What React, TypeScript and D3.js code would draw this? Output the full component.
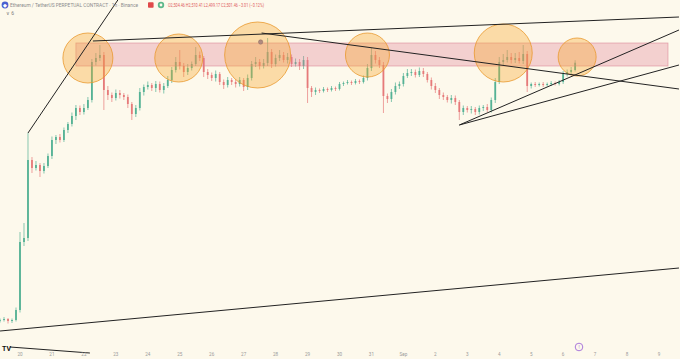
import React from "react";
import * as d3 from "d3";

// ---- data (3h candles starting 2024-08-19 09:00 UTC) ----
const closes = [
  1472, 1476, 1468, 1472, 1512, 1784, 1800, 2112, 2080, 2092,
  2068, 2088, 2128, 2192, 2204, 2192, 2232, 2256, 2288, 2320,
  2304, 2320, 2352, 2504, 2520, 2532, 2392, 2372, 2360, 2380,
  2372, 2364, 2336, 2296, 2320, 2384, 2404, 2412, 2400, 2416,
  2392, 2408, 2432, 2472, 2504, 2488, 2464, 2480, 2496, 2532,
  2520, 2464, 2452, 2440, 2456, 2424, 2412, 2432, 2424, 2416,
  2432, 2404, 2440, 2496, 2504, 2488, 2500, 2544, 2496, 2520,
  2532, 2512, 2524, 2496, 2504, 2488, 2512, 2400, 2384, 2392,
  2388, 2396, 2392, 2400, 2396, 2416, 2420, 2424, 2420, 2428,
  2424, 2440, 2480, 2532, 2512, 2492, 2368, 2356, 2384, 2408,
  2416, 2448, 2460, 2464, 2452, 2468, 2456, 2432, 2408, 2392,
  2372, 2364, 2352, 2360, 2344, 2304, 2320, 2312, 2316, 2304,
  2320, 2324, 2312, 2352, 2424, 2504, 2512, 2524, 2512, 2520,
  2508, 2536, 2408, 2416, 2412, 2416, 2412, 2416, 2420, 2416,
  2424, 2456, 2464, 2472, 2501,
];
const firstOpen = 1470;
const wickUp = [
  6, 8, 4, 6, 10, 40, 60, 108, 12, 16,
  8, 12, 10, 14, 8, 12, 10, 8, 14, 12,
  10, 16, 12, 12, 20, 40, 12, 16, 10, 14,
  12, 8, 10, 8, 12, 16, 10, 14, 8, 12,
  10, 12, 16, 12, 20, 48, 12, 16, 10, 32,
  14, 8, 12, 10, 14, 8, 10, 12, 8, 10,
  12, 8, 14, 12, 20, 12, 16, 56, 12, 14,
  20, 12, 16, 10, 14, 12, 16, 12, 8, 10,
  6, 8, 6, 8, 6, 8, 6, 8, 6, 8,
  6, 10, 16, 28, 16, 12, 12, 10, 12, 14,
  10, 12, 16, 12, 10, 14, 12, 8, 10, 12,
  8, 10, 8, 12, 10, 8, 10, 8, 12, 8,
  10, 8, 12, 10, 16, 20, 24, 28, 16, 20,
  24, 36, 12, 6, 8, 6, 8, 6, 8, 6,
  8, 12, 10, 12, 10,
];
const wickDown = [
  8, 6, 10, 8, 6, 10, 16, 12, 20, 10,
  24, 10, 8, 12, 16, 10, 8, 12, 10, 16,
  12, 10, 8, 10, 14, 12, 80, 20, 16, 10,
  14, 12, 16, 24, 12, 10, 14, 10, 12, 16,
  10, 14, 8, 12, 10, 14, 20, 12, 10, 8,
  12, 20, 16, 12, 14, 12, 16, 10, 12, 14,
  10, 16, 12, 10, 12, 14, 10, 12, 16, 10,
  12, 10, 14, 12, 10, 16, 12, 60, 20, 12,
  8, 6, 8, 6, 8, 6, 8, 6, 8, 6,
  8, 6, 10, 12, 14, 12, 68, 16, 12, 10,
  12, 10, 8, 12, 10, 8, 12, 10, 14, 12,
  16, 12, 10, 14, 12, 32, 12, 10, 14, 12,
  10, 12, 8, 10, 12, 8, 12, 10, 14, 12,
  10, 12, 24, 10, 8, 6, 8, 6, 8, 6,
  6, 8, 10, 8, 6,
];

const tickDays = [
  "2024-08-20", "2024-08-21", "2024-08-22", "2024-08-23", "2024-08-24",
  "2024-08-25", "2024-08-26", "2024-08-27", "2024-08-28", "2024-08-29",
  "2024-08-30", "2024-08-31", "2024-09-01", "2024-09-02", "2024-09-03",
  "2024-09-04", "2024-09-05", "2024-09-06", "2024-09-07", "2024-09-08",
  "2024-09-09",
];
const tickLabels = [
  "20", "21", "22", "23", "24", "25", "26", "27", "28", "29",
  "30", "31", "Sep", "2", "3", "4", "5", "6", "7", "8", "9",
];

// annotations in (candle index, price)
const zoneBox = { t0: 19, t1: 167.25, p0: 2580, p1: 2488 };
const circleCenters = [
  { t: 22, p: 2520 },
  { t: 44.75, p: 2520 },
  { t: 64.5, p: 2532 },
  { t: 92, p: 2532 },
  { t: 126, p: 2540 },
  { t: 144.5, p: 2524 },
];
const circleRadii = [25, 24, 33, 22, 29, 19];
const trendLines = [
  { t0: 7, p0: 2220, t1: 29.5, p1: 2752 },
  { t0: 23.25, p0: 2588, t1: 170, p1: 2684 },
  { t0: 65.5, p0: 2620, t1: 170, p1: 2396 },
  { t0: 115, p0: 2252, t1: 170, p1: 2632 },
  { t0: 115, p0: 2252, t1: 170, p1: 2492 },
  { t0: 0, p0: 1428, t1: 170, p1: 1680 },
  { t0: 2.5, p0: 1364, t1: 22.5, p1: 1340 },
];
const markerPoint = { t: 65.25, p: 2584 };

const legendTitle = "Ethereum / TetherUS PERPETUAL CONTRACT · 1h · Binance";
const legendOHLC = "O2,504.46 H2,510.41 L2,499.17 C2,501.46 −3.01 (−0.12%)";

const START = Date.UTC(2024, 7, 19, 9);
const STEP = 3 * 3600 * 1000;
const tDate = (t: number) => new Date(START + t * STEP);

export default function App() {
  const W = 680, H = 359;
  const x = d3
    .scaleUtc()
    .domain([new Date(Date.UTC(2024, 7, 20)), new Date(Date.UTC(2024, 8, 9))])
    .range([20, 659]);
  const y = d3.scaleLinear().domain([1472, 2504]).range([320, 62]);

  const candles = closes.map((c, i) => {
    const o = i === 0 ? firstOpen : closes[i - 1];
    const hi = Math.max(o, c) + wickUp[i];
    const lo = Math.min(o, c) - wickDown[i];
    return { o, c, hi, lo, d: tDate(i) };
  });

  const green = "#55b295";
  const red = "#e67a7a";
  const bodyW = 1.8;

  return (
    <svg
      width={W}
      height={H}
      style={{ position: "fixed", left: 0, top: 0, background: "#fdf9ec" }}
      fontFamily="Roboto, 'Noto Sans', sans-serif"
    >
      <rect x={0} y={0} width={W} height={H} fill="#fdf9ec" />
      {/* candles */}
      {candles.map((k, i) => {
        const cx = x(k.d);
        const up = k.c >= k.o;
        const col = up ? green : red;
        const yTop = y(Math.max(k.o, k.c));
        const yBot = y(Math.min(k.o, k.c));
        return (
          <g key={i}>
            <line x1={cx} x2={cx} y1={y(k.hi)} y2={y(k.lo)} stroke={col} strokeWidth={0.7} />
            <rect x={cx - bodyW / 2} y={yTop} width={bodyW} height={Math.max(0.8, yBot - yTop)} fill={col} />
          </g>
        );
      })}
      {/* zone */}
      <rect
        x={x(tDate(zoneBox.t0))}
        y={y(zoneBox.p0)}
        width={x(tDate(zoneBox.t1)) - x(tDate(zoneBox.t0))}
        height={y(zoneBox.p1) - y(zoneBox.p0)}
        fill="rgba(225,120,145,0.32)"
        stroke="rgba(215,120,140,0.6)"
        strokeWidth={0.8}
      />
      {/* circles */}
      {circleCenters.map((c, i) => (
        <circle
          key={i}
          cx={x(tDate(c.t))}
          cy={y(c.p)}
          r={circleRadii[i]}
          fill="rgba(246,165,45,0.36)"
          stroke="rgba(232,150,40,0.85)"
          strokeWidth={0.9}
        />
      ))}
      {/* trend lines */}
      {trendLines.map((l, i) => (
        <line
          key={i}
          x1={x(tDate(l.t0))}
          y1={y(l.p0)}
          x2={x(tDate(l.t1))}
          y2={y(l.p1)}
          stroke="#222"
          strokeWidth={1}
        />
      ))}
      <circle cx={x(tDate(markerPoint.t))} cy={y(markerPoint.p)} r={2.2} fill="#b08a80" stroke="#8a6a60" strokeWidth={0.5} />

      {/* x axis labels */}
      {tickDays.map((d, i) => (
        <text
          key={d}
          x={x(new Date(d + "T00:00:00Z"))}
          y={356}
          fontSize={4.6}
          fill="#9a9a9a"
          textAnchor="middle"
        >
          {tickLabels[i]}
        </text>
      ))}

      {/* legend */}
      <circle cx={5} cy={5} r={3.4} fill="#4a60d0" />
      <text x={3.3} y={6.6} fontSize={4.5} fill="#fff" fontWeight="bold">◆</text>
      <text x={10} y={7} fontSize={5} fill="#8c8c8c" textLength={128} lengthAdjust="spacingAndGlyphs">
        {legendTitle}
      </text>
      <rect x={148} y={2.2} width={5.6} height={5.6} rx={0.8} fill="#e04a4a" />
      <circle cx={161} cy={5} r={3.2} fill="#5cb88a" />
      <circle cx={161} cy={5} r={1.4} fill="#fdf9ec" />
      <text x={168} y={7} fontSize={5} fill="#e05c5c" textLength={96} lengthAdjust="spacingAndGlyphs">
        {legendOHLC}
      </text>
      <text x={6} y={15} fontSize={5} fill="#777">∨ 6</text>

      {/* TV logo */}
      <text x={2} y={351} fontSize={7} fontWeight="bold" fill="#111">TV</text>
      {/* purple marker */}
      <circle cx={579} cy={347} r={3.8} fill="none" stroke="#a06ad8" strokeWidth={0.9} />
      <text x={579} y={348.8} fontSize={4.5} fill="#a06ad8" textAnchor="middle">!</text>
    </svg>
  );
}
